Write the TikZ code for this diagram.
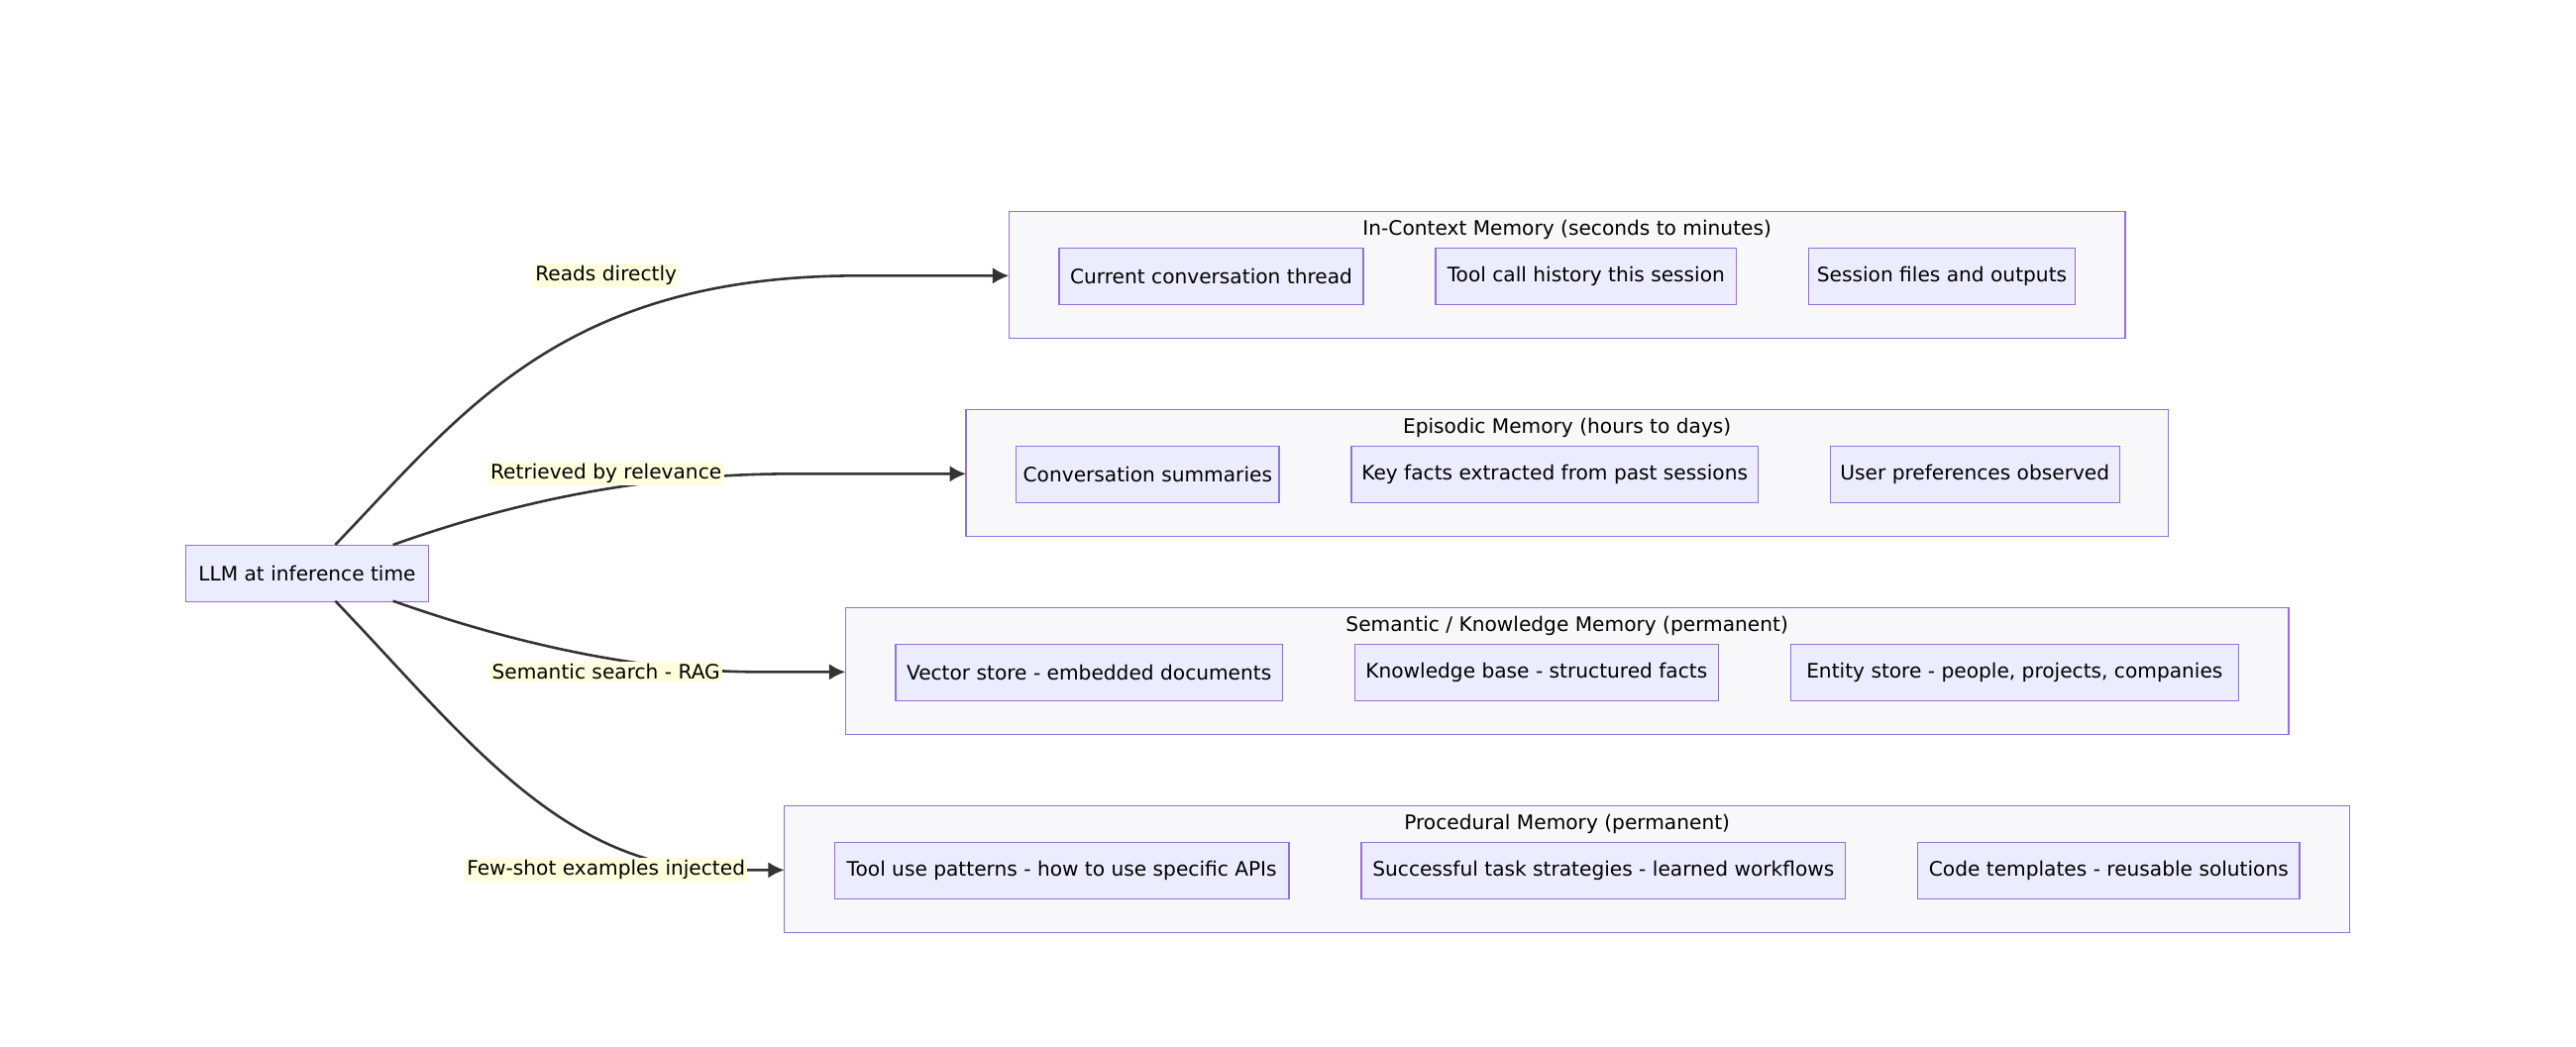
\documentclass[tikz,border=0pt]{standalone}
\usepackage{fontspec}
\setmainfont{DejaVu Sans}
\usetikzlibrary{arrows.meta}
\definecolor{nodefill}{HTML}{ECECFF}
\definecolor{nodeline}{HTML}{9370DB}
\definecolor{grpfill}{HTML}{F8F8FA}
\definecolor{lblfill}{HTML}{FFFFDE}
\definecolor{edge}{HTML}{333333}
\tikzset{
  item/.style={draw=nodeline,fill=nodefill,line width=0.6pt,inner sep=0pt,font=\fontsize{8.6}{10}\selectfont,text=black},
  grp/.style={draw=nodeline,fill=grpfill,line width=0.6pt},
  gtitle/.style={font=\fontsize{8.6}{10}\selectfont,text=black},
  elabel/.style={fill=lblfill,inner sep=1pt,font=\fontsize{8.6}{10}\selectfont,text=black},
  conn/.style={draw=edge,line width=1.1pt,-{Latex[length=7pt,width=7pt]}}
}
\newcommand{\itembox}[6]{\node[item,minimum width=#4*0.025cm-0.6pt,minimum height=#5*0.025cm,anchor=north west] (#1) at (#2,#3) {#6};}
\begin{document}
\begin{tikzpicture}[x=0.025cm,y=-0.025cm]
\useasboundingbox (0,0) rectangle (1560,634);
% groups
\draw[grp] (611,128) rectangle (1287,205);
\node[gtitle] (g1t) at (949,139) {In-Context Memory (seconds to minutes)};
\coordinate (g1) at (611,167);
\draw[grp] (585,248) rectangle (1313,325);
\node[gtitle] (g2t) at (949,259) {Episodic Memory (hours to days)};
\coordinate (g2) at (585,287);
\draw[grp] (512,368) rectangle (1386,445);
\node[gtitle] (g3t) at (949,379) {Semantic / Knowledge Memory (permanent)};
\coordinate (g3) at (512,407);
\draw[grp] (475,488) rectangle (1423,565);
\node[gtitle] (g4t) at (949,499) {Procedural Memory (permanent)};
\coordinate (g4) at (475,527);
% items
\itembox{a1}{641}{150}{185}{34}{Current conversation thread}
\itembox{a2}{869}{150}{183}{34}{Tool call history this session}
\itembox{a3}{1095}{150}{162}{34}{Session files and outputs}
\itembox{b1}{615}{270}{160}{34}{Conversation summaries}
\itembox{b2}{818}{270}{247}{34}{Key facts extracted from past sessions}
\itembox{b3}{1108}{270}{176}{34}{User preferences observed}
\itembox{c1}{542}{390}{235}{34}{Vector store - embedded documents}
\itembox{c2}{820}{390}{221}{34}{Knowledge base - structured facts}
\itembox{c3}{1084}{390}{272}{34}{Entity store - people, projects, companies}
\itembox{d1}{505}{510}{276}{34}{Tool use patterns - how to use specific APIs}
\itembox{d2}{824}{510}{294}{34}{Successful task strategies - learned workflows}
\itembox{d3}{1161}{510}{232}{34}{Code templates - reusable solutions}
% LLM
\itembox{llm}{112}{330}{148}{34}{LLM at inference time}
\coordinate (t1) at (203,330);
\coordinate (t2) at (238,330);
\coordinate (b3p) at (238,364);
\coordinate (b4p) at (203,364);
% edges
\draw[conn] (t1) .. controls (280,250) and (340,167) .. (520,167) -- (g1);
\draw[conn] (t2) .. controls (300,308) and (380,287) .. (480,287) -- (g2);
\draw[conn] (b3p) .. controls (300,386) and (380,407) .. (460,407) -- (g3);
\draw[conn] (b4p) .. controls (280,444) and (340,527) .. (440,527) -- (g4);
\node[elabel] (l1) at (367,167) {Reads directly};
\node[elabel] (l2) at (367,287) {Retrieved by relevance};
\node[elabel] (l3) at (367,407) {Semantic search - RAG};
\node[elabel] (l4) at (367,527) {Few-shot examples injected};
\end{tikzpicture}
\end{document}
